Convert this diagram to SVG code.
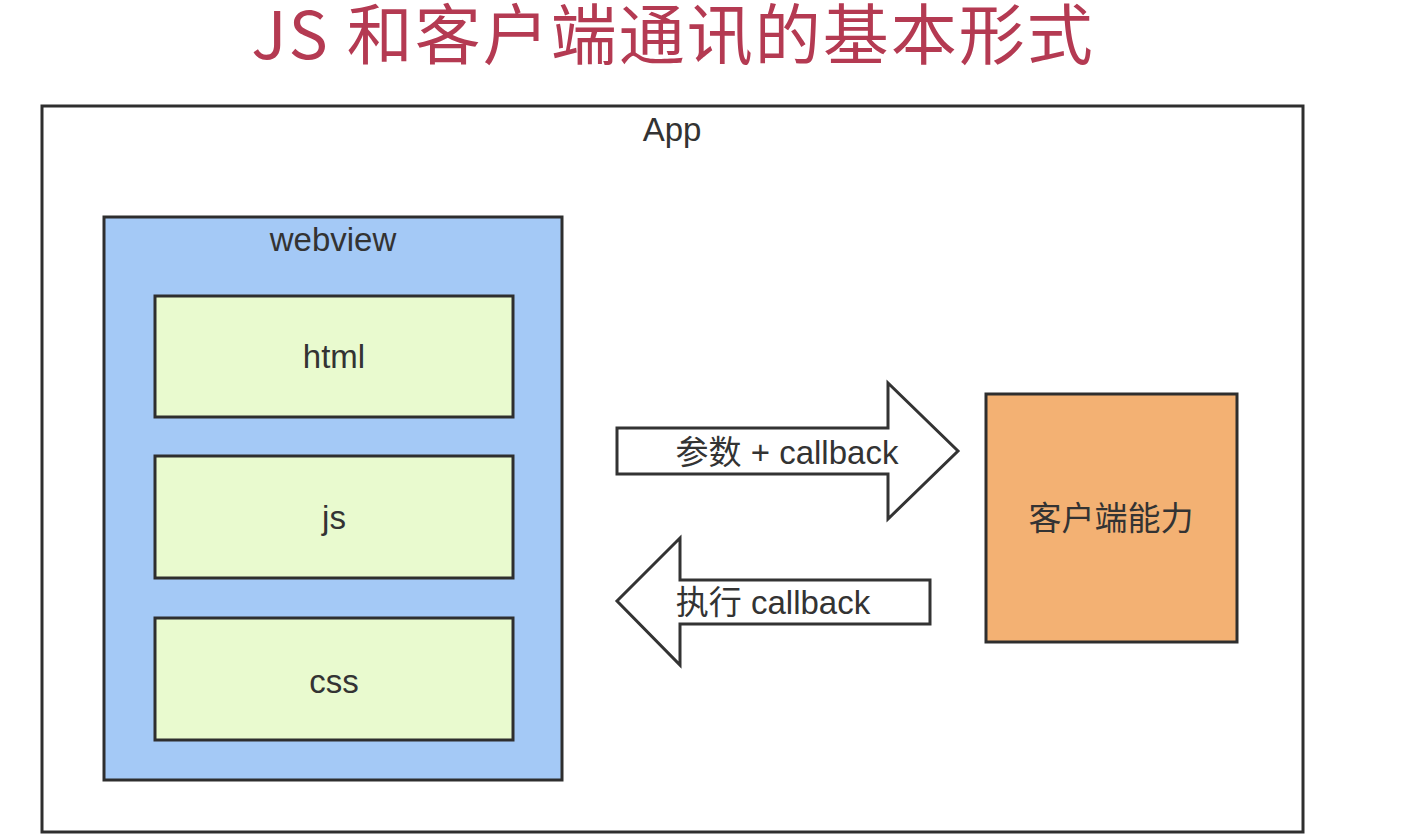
<svg xmlns="http://www.w3.org/2000/svg" width="1420" height="838" viewBox="0 0 1420 838">
<style>
.box{stroke:#2e2e2e;stroke-width:3}
.lbl{font-family:"Liberation Sans","Noto Sans CJK SC",sans-serif;font-size:33px;fill:#333;text-anchor:middle}
.title{font-family:"Noto Sans CJK SC",sans-serif;font-size:66px;letter-spacing:2px;fill:#b43a52;text-anchor:middle}
.arrow{fill:#fff;stroke:#333;stroke-width:3;stroke-linejoin:miter}
</style>
<rect width="1420" height="838" fill="#fff"/>
<text class="title" x="673" y="59">JS 和客户端通讯的基本形式</text>
<g id="app">
<rect class="box" x="42" y="106" width="1261" height="726" fill="#fff"/>
<text class="lbl" x="672" y="141">App</text>
</g>
<g id="webview">
<rect class="box" x="104" y="217" width="458" height="563" fill="#a4c9f6"/>
<text class="lbl" x="333" y="251">webview</text>
</g>
<g id="html">
<rect class="box" x="155" y="296" width="358" height="121" fill="#e9facf"/>
<text class="lbl" x="334" y="368">html</text>
</g>
<g id="js">
<rect class="box" x="155" y="456" width="358" height="122" fill="#e9facf"/>
<text class="lbl" x="334" y="529">js</text>
</g>
<g id="css">
<rect class="box" x="155" y="618" width="358" height="122" fill="#e9facf"/>
<text class="lbl" x="334" y="693">css</text>
</g>
<g id="client">
<rect class="box" x="986" y="394" width="251" height="248" fill="#f3b173"/>
<text class="lbl" x="1111" y="530">客户端能力</text>
</g>
<g id="connectors">
<g id="arrow-request">
<polygon class="arrow" points="617,428 888,428 888,383 958,451 888,519 888,474 617,474"/>
<text class="lbl" x="787" y="464">参数 + callback</text>
</g>
<g id="arrow-callback">
<polygon class="arrow" points="930,580 680,580 680,538 617,601 680,665 680,624 930,624"/>
<text class="lbl" x="773" y="614">执行 callback</text>
</g>
</g>
</svg>
